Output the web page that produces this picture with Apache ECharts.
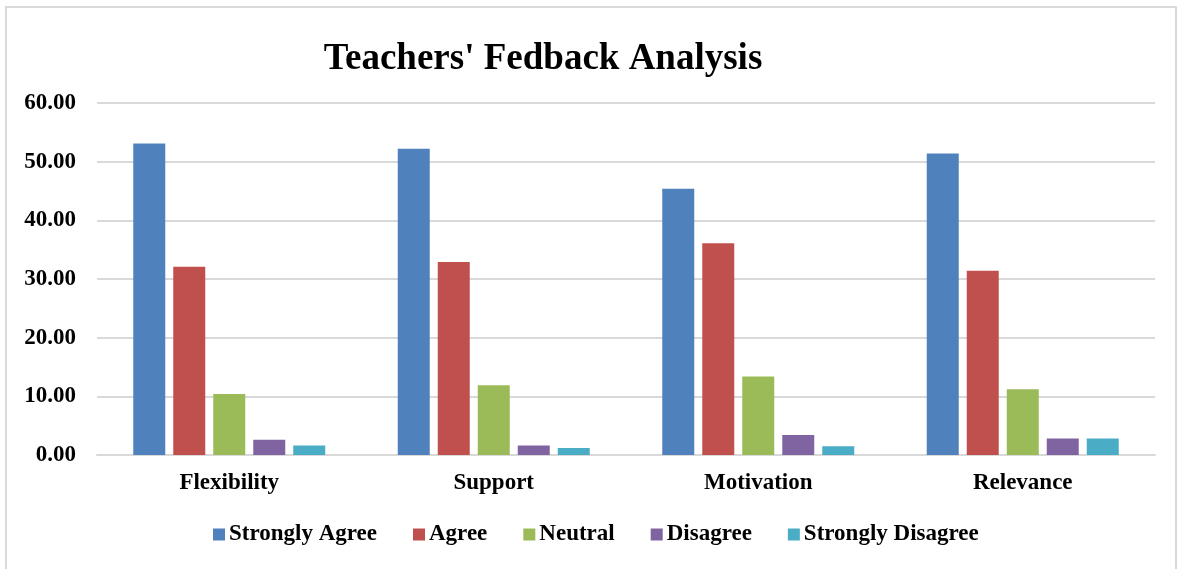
<!DOCTYPE html>
<html>
<head>
<meta charset="utf-8">
<script src="https://cdn.jsdelivr.net/npm/echarts@6/dist/echarts.min.js"></script>
<style>
html,body{margin:0;padding:0;background:#fff;}
#wrap{position:absolute;left:5px;top:6px;width:1172px;height:570px;border:2px solid #d9d9d9;box-sizing:border-box;}
#chart{position:absolute;left:0;top:0;width:1182px;height:569px;}
</style>
</head>
<body>
<div id="wrap"></div>
<div id="chart"></div>
<script>
const categories = ["Flexibility", "Support", "Motivation", "Relevance"];
const seriesNames = ["Strongly Agree", "Agree", "Neutral", "Disagree", "Strongly Disagree"];
const stronglyAgree = [53.1, 52.2, 45.4, 51.4];
const agree = [32.1, 32.9, 36.1, 31.4];
const neutral = [10.4, 11.9, 13.4, 11.2];
const disagree = [2.6, 1.6, 3.4, 2.8];
const stronglyDisagree = [1.6, 1.2, 1.5, 2.8];
const colors = ["#4F81BD", "#C0504D", "#9BBB59", "#8064A2", "#4BACC6"];
const values = [stronglyAgree, agree, neutral, disagree, stronglyDisagree];

const font = "'Liberation Serif', 'Times New Roman', serif";
const chart = echarts.init(document.getElementById('chart'));
chart.setOption({
  animation: false,
  color: colors,
  title: {
    text: "Teachers' Fedback Analysis",
    left: 538, top: 36, textAlign: 'center',
    textStyle: {fontFamily: font, fontWeight: 'bold', fontSize: 37, color: '#000'}
  },
  legend: {
    bottom: 18, left: 208,
    icon: 'rect', itemWidth: 12, itemHeight: 12, itemGap: 36,
    textStyle: {fontFamily: font, fontWeight: 'bold', fontSize: 23, color: '#000', padding: [0,0,0,-1]},
    data: seriesNames
  },
  grid: {left: 97, right: 27, top: 103, bottom: 114, containLabel: false},
  xAxis: {
    type: 'category', data: categories,
    axisLine: {show: true, lineStyle: {color: '#d9d9d9', width: 2}},
    axisTick: {show: false},
    axisLabel: {fontFamily: font, fontWeight: 'bold', fontSize: 23, color: '#000', margin: 17}
  },
  yAxis: {
    type: 'value', min: 0, max: 60, interval: 10,
    axisLine: {show: false}, axisTick: {show: false},
    splitLine: {lineStyle: {color: '#d9d9d9', width: 2}},
    axisLabel: {fontFamily: font, fontWeight: 'bold', fontSize: 23, color: '#000', margin: 21,
      formatter: v => v.toFixed(2)}
  },
  series: seriesNames.map((n, i) => ({
    name: n, type: 'bar', data: values[i],
    barWidth: 32, barGap: '25%',
    itemStyle: {color: colors[i]}
  }))
});
</script>
</body>
</html>
